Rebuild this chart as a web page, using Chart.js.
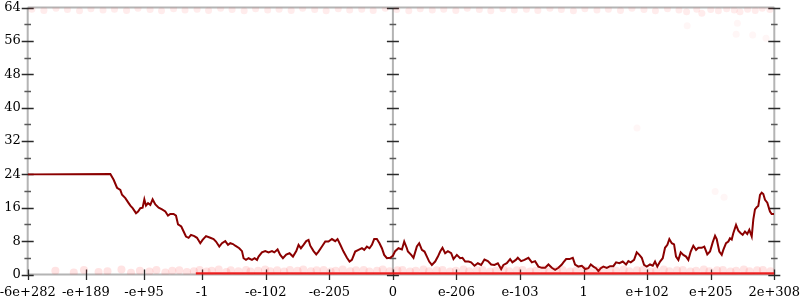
<!DOCTYPE html>
<html>
<head>
<meta charset="utf-8">
<script src="https://cdn.jsdelivr.net/npm/chart.js@4.4.1/dist/chart.umd.min.js"></script>
<style>
  html, body { margin: 0; padding: 0; background: #ffffff; }
  #wrap { width: 800px; height: 300px; }
</style>
</head>
<body>
<div id="wrap"><canvas id="c" width="800" height="300"></canvas></div>
<script>
// ---- x axis: float values ordered by position on the number line (tick units) ----
const xMin = -5.745;
const xMax = 6;
const xTickValues = [-5.745, -4.83, -3.915, -3, -2, -1, 0, 1, 2, 3, 4, 5, 6];
const xTickLabels = ['-6e+282', '-e+189', '-e+95', '-1', '-e-102', '-e-205', '0',
                     'e-206', 'e-103', '1', 'e+102', 'e+205', '2e+308'];
const yTickValues = [0, 8, 16, 24, 32, 40, 48, 56, 64];

// ---- main series (dark red line) ----
const lineX = [-5.745, -4.445, -4.393, -4.340, -4.288, -4.261, -4.209, -4.157, -4.130, -4.094,
  -4.041, -4.009, -3.973, -3.937, -3.910, -3.884, -3.852, -3.816, -3.780, -3.737,
  -3.685, -3.632, -3.580, -3.538, -3.502, -3.450, -3.412, -3.380, -3.329, -3.292,
  -3.255, -3.214, -3.176, -3.124, -3.082, -3.030, -2.994, -2.940, -2.873, -2.821,
  -2.783, -2.731, -2.689, -2.637, -2.594, -2.558, -2.516, -2.480, -2.417, -2.374,
  -2.349, -2.311, -2.270, -2.217, -2.176, -2.138, -2.113, -2.060, -2.008, -1.956,
  -1.902, -1.866, -1.814, -1.772, -1.730, -1.678, -1.626, -1.572, -1.520, -1.484,
  -1.447, -1.406, -1.363, -1.327, -1.300, -1.248, -1.206, -1.170, -1.116, -1.064,
  -1.013, -0.959, -0.907, -0.871, -0.829, -0.777, -0.723, -0.682, -0.645, -0.593,
  -0.541, -0.487, -0.451, -0.409, -0.368, -0.330, -0.294, -0.252, -0.211, -0.173,
  -0.137, -0.094, -0.042, 0.000, 0.036, 0.088, 0.142, 0.178, 0.220, 0.236,
  0.288, 0.324, 0.377, 0.414, 0.456, 0.497, 0.535, 0.571, 0.613, 0.665,
  0.708, 0.744, 0.780, 0.822, 0.865, 0.917, 0.953, 1.006, 1.058, 1.094,
  1.137, 1.189, 1.231, 1.283, 1.336, 1.388, 1.440, 1.494, 1.546, 1.597,
  1.651, 1.703, 1.739, 1.792, 1.844, 1.880, 1.934, 1.965, 2.017, 2.069,
  2.132, 2.186, 2.237, 2.289, 2.343, 2.395, 2.447, 2.500, 2.552, 2.604,
  2.657, 2.682, 2.725, 2.777, 2.830, 2.866, 2.918, 2.972, 3.024, 3.075,
  3.113, 3.154, 3.196, 3.233, 3.270, 3.311, 3.365, 3.417, 3.468, 3.511,
  3.563, 3.616, 3.668, 3.704, 3.742, 3.794, 3.836, 3.877, 3.915, 3.951,
  3.994, 4.045, 4.088, 4.124, 4.160, 4.203, 4.245, 4.281, 4.318, 4.349,
  4.387, 4.423, 4.454, 4.491, 4.528, 4.569, 4.612, 4.648, 4.685, 4.726,
  4.769, 4.805, 4.858, 4.899, 4.946, 4.989, 5.031, 5.068, 5.094, 5.135,
  5.173, 5.198, 5.241, 5.277, 5.303, 5.330, 5.355, 5.398, 5.434, 5.472,
  5.503, 5.539, 5.575, 5.607, 5.645, 5.670, 5.696, 5.723, 5.748, 5.775,
  5.802, 5.827, 5.854, 5.890, 5.932, 5.959, 5.995];
const lineY = [24.0, 24.1, 22.7, 20.8, 20.3, 19.1, 18.3, 17.1, 16.5, 15.9,
  14.7, 15.1, 15.9, 16.0, 18.0, 16.5, 17.1, 16.7, 18.0, 16.8,
  16.0, 15.6, 15.1, 14.1, 14.5, 14.5, 14.1, 12.0, 11.5, 10.3,
  9.1, 8.8, 9.5, 9.2, 8.8, 7.5, 8.3, 9.2, 8.8, 8.5,
  7.9, 6.7, 7.5, 8.0, 7.1, 7.5, 7.3, 6.9, 6.3, 5.6,
  3.9, 3.5, 3.9, 3.5, 3.9, 3.5, 4.3, 5.3, 5.6, 5.3,
  5.6, 5.3, 6.0, 4.7, 3.9, 4.8, 5.1, 4.3, 5.6, 7.1,
  6.3, 7.1, 8.0, 8.3, 6.9, 5.6, 4.8, 5.5, 6.7, 7.9,
  7.9, 8.5, 8.0, 8.5, 7.2, 5.5, 4.0, 3.1, 3.5, 5.5,
  5.9, 6.3, 5.9, 6.7, 6.3, 7.1, 8.5, 8.5, 7.5, 6.3,
  4.7, 3.9, 4.0, 4.5, 5.6, 6.3, 6.0, 7.9, 6.3, 5.5,
  4.7, 4.0, 6.7, 7.5, 5.9, 5.5, 4.3, 3.1, 2.3, 3.1,
  4.3, 5.5, 6.4, 5.1, 5.6, 5.1, 3.7, 4.7, 3.9, 4.0,
  3.1, 3.1, 2.9, 2.1, 2.7, 2.3, 3.6, 3.2, 2.4, 2.3,
  2.7, 1.3, 2.3, 2.7, 3.7, 2.9, 3.5, 4.0, 3.2, 3.5,
  4.0, 2.9, 3.2, 1.9, 1.6, 1.6, 2.4, 1.6, 1.1, 1.6,
  2.4, 2.9, 3.7, 3.7, 4.0, 2.4, 1.9, 2.1, 1.3, 1.5,
  2.4, 1.9, 1.5, 0.8, 1.5, 1.9, 1.6, 2.0, 2.0, 2.9,
  2.7, 3.1, 2.4, 3.2, 2.9, 3.5, 5.3, 4.7, 4.0, 2.3,
  1.9, 2.4, 2.1, 3.1, 1.9, 3.1, 3.9, 6.4, 7.1, 8.5,
  7.5, 7.2, 4.3, 3.5, 5.3, 4.7, 4.3, 3.5, 5.5, 6.9,
  5.9, 6.4, 6.4, 6.7, 4.8, 5.5, 7.7, 9.3, 8.5, 5.5,
  4.7, 5.9, 7.5, 7.9, 8.7, 8.4, 9.9, 11.9, 10.5, 9.9,
  9.5, 10.3, 9.7, 10.7, 9.1, 13.2, 15.6, 16.1, 16.4, 19.1,
  19.6, 19.3, 17.9, 17.2, 15.1, 14.5, 14.5];

// ---- faint sample dots near 0 ----
const lowDotX = [-5.31, -5.02, -4.86, -4.63, -4.49, -4.27, -4.12, -3.98, -3.83, -3.72,
  -3.58, -3.47, -3.36, -3.24, -3.13, -3.04, -2.93, -2.85, -2.74, -2.62,
  -2.55, -2.43, -2.31, -2.24, -2.12, -2.01, -1.93, -1.82, -1.71, -1.62,
  -1.5, -1.41, -1.29, -1.2, -1.09, -0.98, -0.9, -0.79, -0.67, -0.58,
  -0.46, -0.37, -0.25, -0.16, -0.05, 0.07, 0.15, 0.27, 0.36, 0.48,
  0.57, 0.69, 0.78, 0.9, 0.99, 1.11, 1.2, 1.32, 1.41, 1.53,
  1.62, 1.74, 1.83, 1.95, 2.04, 2.16, 2.25, 2.37, 2.46, 2.58,
  2.67, 2.79, 2.88, 3.0, 3.09, 3.21, 3.3, 3.42, 3.51, 3.63,
  3.72, 3.84, 3.93, 4.05, 4.14, 4.26, 4.35, 4.47, 4.56, 4.68,
  4.77, 4.89, 4.98, 5.1, 5.19, 5.31, 5.4, 5.52, 5.61, 5.73, 5.82, 5.94];
const lowDotY = [0.9, 0.5, 1.1, 0.6, 0.8, 1.2, 0.4, 0.9, 0.7, 1.1,
  0.5, 0.9, 1.0, 0.6, 0.8, 1.1, 0.7, 0.9, 1.2, 0.6,
  1.0, 0.8, 1.1, 0.7, 0.9, 1.2, 0.8, 1.0, 0.7, 1.1,
  0.9, 1.2, 0.8, 1.0, 1.1, 0.7, 0.9, 1.2, 0.8, 1.0,
  1.1, 0.7, 0.9, 1.2, 0.8, 1.0, 1.1, 0.7, 0.9, 1.2,
  0.8, 1.0, 1.1, 0.7, 0.9, 1.2, 0.8, 1.0, 1.1, 0.7,
  0.9, 1.2, 0.8, 1.0, 1.1, 0.7, 0.9, 1.2, 0.8, 1.0,
  1.1, 0.7, 0.9, 1.2, 0.8, 1.0, 1.1, 0.7, 0.9, 1.2,
  0.8, 1.0, 1.1, 0.7, 0.9, 1.2, 0.8, 1.0, 1.1, 0.7,
  0.9, 1.2, 0.8, 1.0, 1.1, 0.7, 0.9, 1.2, 0.8, 1.0, 1.1, 0.8];
// solid run of samples sitting at zero
const zeroRunX = [-3.1, 6];
const zeroRunY = [0.15, 0.15];

// ---- faint sample dots near 64 ----
const highDotX = [-5.68, -5.49, -5.3, -5.12, -4.93, -4.75, -4.56, -4.38, -4.19, -4.01,
  -3.82, -3.64, -3.45, -3.27, -3.08, -2.9, -2.71, -2.53, -2.34, -2.16,
  -1.97, -1.79, -1.6, -1.42, -1.23, -1.05, -0.86, -0.68, -0.49, -0.31,
  -0.12, 0.06, 0.25, 0.43, 0.62, 0.8, 0.99, 1.17, 1.36, 1.54,
  1.73, 1.91, 2.1, 2.28, 2.47, 2.65, 2.84, 3.02, 3.21, 3.39,
  3.58, 3.76, 3.95, 4.13, 4.32, 4.5, 4.62, 4.78, 4.86, 5.0,
  5.12, 5.25, 5.37, 5.46, 5.58, 5.7, 5.81, 5.93];
const highDotY = [63.6, 63.3, 63.8, 63.5, 63.2, 63.7, 63.4, 63.6, 63.3, 63.8,
  63.5, 63.2, 63.7, 63.4, 63.6, 63.3, 63.8, 63.5, 63.2, 63.7,
  63.4, 63.6, 63.3, 63.8, 63.5, 63.2, 63.7, 63.4, 63.6, 63.3,
  63.8, 63.5, 63.2, 63.7, 63.4, 63.6, 63.3, 63.8, 63.5, 63.2,
  63.7, 63.4, 63.6, 63.3, 63.8, 63.5, 63.2, 63.7, 63.4, 63.6,
  63.3, 63.8, 63.5, 63.2, 63.7, 63.4, 63.0, 63.6, 62.6, 63.5,
  63.2, 63.7, 63.4, 63.0, 63.6, 63.3, 63.8, 63.5];
// stray faint dots
const strayX = [4.63, 5.42, 5.40, 5.66, 5.87, 3.84, 5.07, 5.21];
const strayY = [59.6, 60.2, 57.6, 57.4, 56.6, 35.1, 19.9, 18.5];

const pts = (xs, ys) => xs.map((x, i) => ({ x: x, y: ys[i] }));

const axisDecor = {
  id: 'axisDecor',
  beforeDatasetsDraw(chart) {
    const ctx = chart.ctx;
    const xs = chart.scales.x, ys = chart.scales.y;
    const y0 = ys.getPixelForValue(0), yTop = ys.getPixelForValue(64);
    const xL = xs.getPixelForValue(xMin), xR = xs.getPixelForValue(xMax), xZ = xs.getPixelForValue(0);
    ctx.save();
    ctx.strokeStyle = '#b4b4b4';
    ctx.lineWidth = 2;
    ctx.beginPath();
    [xL, xZ, xR].forEach(px => { ctx.moveTo(px, yTop); ctx.lineTo(px, y0); });
    ctx.moveTo(xL, yTop); ctx.lineTo(xR, yTop);
    ctx.moveTo(xL, y0); ctx.lineTo(xR, y0);
    ctx.stroke();
    // y ticks on the three vertical axes
    for (let v = 0; v <= 64; v += 4) {
      const py = Math.round(ys.getPixelForValue(v)) + 0.5;
      const major = v % 8 === 0;
      ctx.strokeStyle = major ? '#2a2a2a' : '#5a5a5a';
      ctx.lineWidth = 1.3;
      const len = major ? 6 : 3.3;
      ctx.beginPath();
      [xL, xZ, xR].forEach(px => { ctx.moveTo(px - len, py); ctx.lineTo(px + len, py); });
      ctx.stroke();
    }
    // x ticks
    ctx.strokeStyle = '#2a2a2a';
    ctx.lineWidth = 1.3;
    ctx.beginPath();
    xTickValues.forEach(v => {
      const px = Math.round(xs.getPixelForValue(v)) + 0.5;
      ctx.moveTo(px, y0 - 5); ctx.lineTo(px, y0 + 5.5);
    });
    ctx.stroke();
    ctx.restore();
  }
};

const font = { family: "'DejaVu Serif', serif", size: 13 };

new Chart(document.getElementById('c'), {
  type: 'scatter',
  data: {
    datasets: [
      { data: pts(highDotX, highDotY), pointRadius: 3.5, pointBorderWidth: 0,
        pointBackgroundColor: 'rgba(255,40,40,0.09)', showLine: false },
      { data: pts(strayX, strayY), pointRadius: 3.5, pointBorderWidth: 0,
        pointBackgroundColor: 'rgba(255,40,40,0.045)', showLine: false },
      { data: pts(lowDotX, lowDotY), pointRadius: 4, pointBorderWidth: 0,
        pointBackgroundColor: 'rgba(255,40,40,0.13)', showLine: false },
      { data: pts(zeroRunX, zeroRunY), showLine: true, pointRadius: 0,
        borderColor: 'rgba(235,20,20,0.95)', borderWidth: 3 },
      { data: pts(lineX, lineY), showLine: true, pointRadius: 0,
        borderColor: '#8b0000', borderWidth: 2, tension: 0 }
    ]
  },
  options: {
    responsive: false,
    animation: false,
    devicePixelRatio: 1,
    layout: { padding: { top: 7.5, right: 25.7, left: 0, bottom: 0 } },
    plugins: { legend: { display: false }, tooltip: { enabled: false } },
    scales: {
      x: {
        type: 'linear', min: xMin, max: xMax,
        grid: { display: false, drawTicks: false },
        border: { display: false },
        afterBuildTicks: s => { s.ticks = xTickValues.map(v => ({ value: v })); },
        afterFit: s => { s.height = 25.5; s.paddingLeft = 0; s.paddingRight = 0; },
        ticks: {
          autoSkip: false, maxRotation: 0, minRotation: 0, padding: 10.5,
          color: '#000', font: font,
          callback: (v, i) => xTickLabels[i]
        }
      },
      y: {
        type: 'linear', min: 0, max: 64,
        grid: { display: false, drawTicks: false },
        border: { display: false },
        afterBuildTicks: s => { s.ticks = yTickValues.map(v => ({ value: v })); },
        afterFit: s => { s.width = 27.7; s.paddingTop = 0; s.paddingBottom = 0; },
        ticks: { padding: 7, color: '#000', font: font }
      }
    }
  },
  plugins: [axisDecor]
});
</script>
</body>
</html>
